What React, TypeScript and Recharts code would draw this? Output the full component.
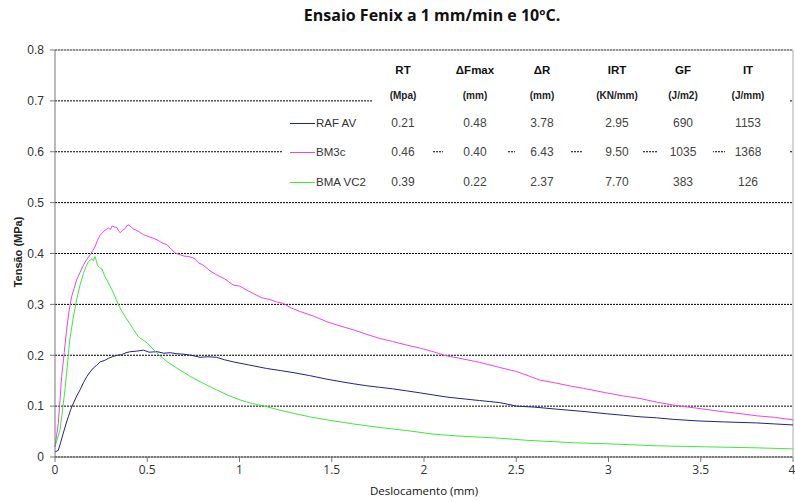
import { CartesianGrid, Line, LineChart, ReferenceLine, XAxis, YAxis } from 'recharts';

// deslocamento (mm) vs tensão (MPa)
const rafAv = [
  [0, 0.01], [0.018, 0.013], [0.03, 0.028], [0.045, 0.047], [0.058, 0.063], [0.072, 0.079],
  [0.085, 0.093], [0.1, 0.106], [0.118, 0.12], [0.136, 0.132], [0.154, 0.146], [0.172, 0.158],
  [0.19, 0.167], [0.208, 0.175], [0.225, 0.18], [0.245, 0.187], [0.27, 0.19], [0.29, 0.194],
  [0.31, 0.197], [0.336, 0.2], [0.36, 0.201], [0.385, 0.205], [0.408, 0.207], [0.44, 0.208],
  [0.48, 0.21], [0.51, 0.206], [0.553, 0.207], [0.59, 0.204], [0.626, 0.205], [0.66, 0.203],
  [0.699, 0.202], [0.74, 0.2], [0.786, 0.196], [0.83, 0.197], [0.876, 0.196], [0.92, 0.191],
  [0.966, 0.187], [1.05, 0.181], [1.147, 0.174], [1.22, 0.17], [1.29, 0.166], [1.38, 0.16],
  [1.473, 0.153], [1.55, 0.148], [1.617, 0.144], [1.69, 0.14], [1.76, 0.137], [1.83, 0.134],
  [1.906, 0.13], [1.98, 0.126], [2.05, 0.122], [2.12, 0.118], [2.195, 0.115], [2.3, 0.111],
  [2.41, 0.107], [2.502, 0.1], [2.6, 0.098], [2.72, 0.094], [2.85, 0.09], [2.99, 0.085],
  [3.08, 0.082], [3.171, 0.079], [3.26, 0.077], [3.351, 0.074], [3.48, 0.071], [3.622, 0.069],
  [3.803, 0.067], [3.9, 0.065], [4.0, 0.063],
];

const bm3c = [
  [0, 0.02], [0.018, 0.066], [0.036, 0.158], [0.05, 0.205], [0.063, 0.25], [0.075, 0.285],
  [0.09, 0.315], [0.104, 0.332], [0.117, 0.348], [0.135, 0.362], [0.154, 0.377], [0.172, 0.388],
  [0.19, 0.397], [0.205, 0.406], [0.217, 0.413], [0.23, 0.426], [0.245, 0.436], [0.26, 0.442],
  [0.272, 0.446], [0.29, 0.45], [0.3, 0.447], [0.31, 0.454], [0.323, 0.452], [0.336, 0.451],
  [0.345, 0.444], [0.354, 0.441], [0.367, 0.446], [0.38, 0.449], [0.39, 0.455], [0.4, 0.456],
  [0.413, 0.452], [0.426, 0.448], [0.45, 0.444], [0.48, 0.437], [0.51, 0.433], [0.553, 0.427],
  [0.58, 0.421], [0.608, 0.417], [0.63, 0.408], [0.653, 0.401], [0.675, 0.398], [0.699, 0.395],
  [0.725, 0.394], [0.753, 0.391], [0.78, 0.381], [0.8, 0.378], [0.84, 0.366], [0.876, 0.358],
  [0.92, 0.35], [0.966, 0.338], [1.0, 0.336], [1.05, 0.326], [1.093, 0.318], [1.12, 0.313],
  [1.16, 0.31], [1.2, 0.305], [1.237, 0.302], [1.28, 0.293], [1.328, 0.286], [1.4, 0.277],
  [1.473, 0.266], [1.55, 0.257], [1.617, 0.25], [1.69, 0.241], [1.76, 0.233], [1.83, 0.227],
  [1.906, 0.22], [1.98, 0.214], [2.05, 0.207], [2.12, 0.199], [2.195, 0.194], [2.3, 0.186],
  [2.41, 0.176], [2.502, 0.168], [2.57, 0.159], [2.629, 0.151], [2.72, 0.145], [2.8, 0.139],
  [2.863, 0.135], [2.99, 0.126], [3.08, 0.12], [3.171, 0.115], [3.26, 0.108], [3.351, 0.102],
  [3.478, 0.096], [3.622, 0.089], [3.72, 0.085], [3.803, 0.081], [3.9, 0.078], [4.0, 0.073],
];

const bmaVc2 = [
  [0, 0.02], [0.027, 0.053], [0.04, 0.09], [0.054, 0.132], [0.067, 0.18], [0.08, 0.23],
  [0.098, 0.272], [0.117, 0.309], [0.135, 0.337], [0.154, 0.361], [0.168, 0.374], [0.181, 0.384],
  [0.2, 0.39], [0.208, 0.386], [0.217, 0.394], [0.23, 0.377], [0.241, 0.372], [0.254, 0.37],
  [0.27, 0.355], [0.29, 0.342], [0.317, 0.322], [0.344, 0.299], [0.36, 0.288], [0.38, 0.276],
  [0.4, 0.265], [0.426, 0.25], [0.453, 0.236], [0.5, 0.224], [0.553, 0.204], [0.608, 0.187],
  [0.66, 0.175], [0.735, 0.158], [0.786, 0.148], [0.876, 0.132], [0.94, 0.121], [1.004, 0.112],
  [1.07, 0.105], [1.147, 0.099], [1.22, 0.092], [1.29, 0.086], [1.38, 0.079], [1.473, 0.073],
  [1.617, 0.065], [1.76, 0.058], [1.906, 0.052], [2.05, 0.045], [2.195, 0.041], [2.41, 0.037],
  [2.55, 0.033], [2.81, 0.028], [2.99, 0.026], [3.26, 0.022], [3.53, 0.02], [3.8, 0.018],
  [4.0, 0.016],
];

const xTicks = [0, 0.5, 1, 1.5, 2, 2.5, 3, 3.5, 4];
const yTicks = [0, 0.1, 0.2, 0.3, 0.4, 0.5, 0.6, 0.7, 0.8];

// results table
const tableHeads = ['RT', '\u0394Fmax', '\u0394R', 'IRT', 'GF', 'IT'];
const tableUnits = ['(Mpa)', '(mm)', '(mm)', '(KN/mm)', '(J/m2)', '(J/mm)'];
const rafRow = ['0.21', '0.48', '3.78', '2.95', '690', '1153'];
const bm3cRow = ['0.46', '0.40', '6.43', '9.50', '1035', '1368'];
const bmaRow = ['0.39', '0.22', '2.37', '7.70', '383', '126'];

const series = [
  { name: 'RAF AV', color: '#22228a', pts: rafAv, row: rafRow },
  { name: 'BM3c', color: '#ee44e4', pts: bm3c, row: bm3cRow },
  { name: 'BMA VC2', color: '#3ee83e', pts: bmaVc2, row: bmaRow },
];

const toData = (pts) => pts.map(([d, t]) => ({ d, t }));

// cell layout of the pasted table: [left, right, centre]
const cols = [
  [372, 432, 403],
  [443, 507, 475],
  [515, 570, 542],
  [582, 643, 617],
  [657, 713, 683],
  [725, 790, 748],
];
const rowY = [123, 152, 182];

const txt = { position: 'absolute', fontFamily: 'Liberation Sans, Arial, sans-serif', whiteSpace: 'nowrap' } as const;

export default function App() {
  return (
    <div style={{ position: 'absolute', left: 0, top: 0, width: 795, height: 502, background: '#fff' }}>
      <LineChart width={795} height={502} margin={{ top: 50, right: 2, left: 0, bottom: 0 }}>
        <CartesianGrid horizontal vertical={false} stroke="#000" strokeDasharray="2 1" />
        <XAxis
          type="number"
          dataKey="d"
          domain={[0, 4]}
          ticks={xTicks}
          height={45}
          stroke="#777"
          tickSize={5}
          tickMargin={3}
          tick={{ fill: '#333', fontSize: 12, fontFamily: 'Open Sans' }}
          allowDuplicatedCategory={false}
        />
        <YAxis
          type="number"
          domain={[0, 0.8]}
          ticks={yTicks}
          width={55}
          stroke="#777"
          tickSize={5}
          tickMargin={6}
          tick={{ fill: '#333', fontSize: 12, fontFamily: 'Liberation Sans' }}
        />
        <ReferenceLine y={0.8} stroke="#aaa" />
        <ReferenceLine x={4} stroke="#aaa" />
        {series.map((s) => (
          <Line
            key={s.name}
            data={toData(s.pts)}
            dataKey="t"
            type="linear"
            stroke={s.color}
            strokeWidth={1}
            dot={false}
            isAnimationActive={false}
          />
        ))}
      </LineChart>

      <div style={{ ...txt, left: 0, width: 864, top: 4, textAlign: 'center', fontFamily: 'Open Sans', fontWeight: 700, fontSize: 16, color: '#111' }}>
        Ensaio Fenix a 1 mm/min e 10ºC.
      </div>
      <div style={{ ...txt, left: 55, width: 738, top: 483, textAlign: 'center', fontFamily: 'Open Sans', fontSize: 11.5, color: '#111' }}>
        Deslocamento (mm)
      </div>
      <div
        style={{
          ...txt,
          left: 18,
          top: 252,
          fontWeight: 700,
          fontSize: 11,
          color: '#222',
          transform: 'translate(-50%, -50%) rotate(-90deg)',
        }}
      >
        Tensão (MPa)
      </div>

      {/* table */}
      <div style={{ position: 'absolute', left: 372, top: 58, width: 418, height: 52, background: '#fff' }} />
      <div style={{ position: 'absolute', left: 282, top: 110, width: 90, height: 88, background: '#fff' }} />
      {cols.map(([l, r], i) => (
        <div key={i} style={{ position: 'absolute', left: l, top: 110, width: r - l, height: 88, background: '#fff' }} />
      ))}
      {tableHeads.map((h, i) => (
        <div key={h} style={{ ...txt, left: cols[i][2], top: 70, transform: 'translate(-50%, -50%)', fontWeight: 700, fontSize: 11.5, color: '#111' }}>
          {h}
        </div>
      ))}
      {tableUnits.map((u, i) => (
        <div key={i} style={{ ...txt, left: cols[i][2], top: 95, transform: 'translate(-50%, -50%)', fontWeight: 700, fontSize: 10, color: '#222' }}>
          {u}
        </div>
      ))}
      {series.map((s, r) => (
        <div key={s.name}>
          <div style={{ position: 'absolute', left: 290, top: rowY[r], width: 25, height: 1, background: s.color }} />
          <div style={{ ...txt, left: 316, top: rowY[r], transform: 'translateY(-50%)', fontSize: 11.5, color: '#333' }}>{s.name}</div>
          {s.row.map((v, i) => (
            <div key={i} style={{ ...txt, left: cols[i][2], top: rowY[r], transform: 'translate(-50%, -50%)', fontSize: 12, color: '#444' }}>
              {v}
            </div>
          ))}
        </div>
      ))}
    </div>
  );
}
